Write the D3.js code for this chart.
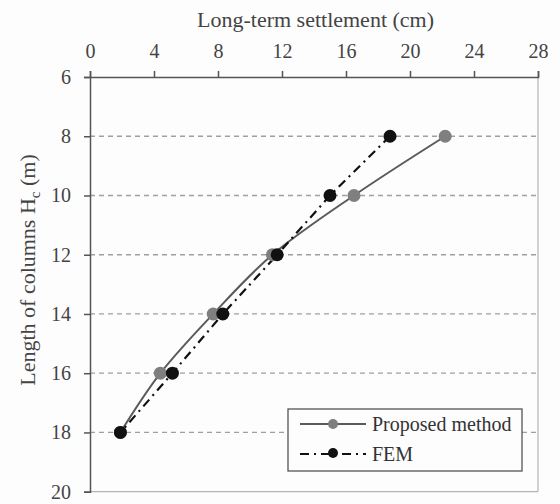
<!DOCTYPE html>
<html><head><meta charset="utf-8">
<script src="https://cdn.jsdelivr.net/npm/d3@7"></script>
<style>body{margin:0;background:#fdfdfd}svg{display:block}
text{font-family:"Liberation Serif","Times New Roman","DejaVu Serif",serif !important}</style>
</head><body>
<svg id="c" width="560" height="504"></svg>
<script>
const depths = [8, 10, 12, 14, 16, 18];
const proposed = [22.2, 16.5, 11.4, 7.7, 4.4, 1.9];
const fem = [18.75, 15.0, 11.7, 8.3, 5.15, 1.9];
const xTicks = [0, 4, 8, 12, 16, 20, 24, 28];
const yTicks = [6, 8, 10, 12, 14, 16, 18, 20];
const gridTicks = [8, 10, 12, 14, 16, 18];

const svg = d3.select("#c");
const L = 90, R = 538, T = 77, B = 491.7;
const x = d3.scaleLinear().domain([0, 28]).range([L, R]);
const y = d3.scaleLinear().domain([6, 20]).range([T, B]);

// frame
svg.append("line").attr("x1", R).attr("x2", R).attr("y1", T).attr("y2", B).attr("stroke", "#b5b5b5").attr("stroke-width", 1.2);
svg.append("line").attr("x1", L).attr("x2", R).attr("y1", B).attr("y2", B).attr("stroke", "#b5b5b5").attr("stroke-width", 1.2);

// grid
svg.append("g").selectAll("line").data(gridTicks).join("line")
  .attr("x1", L).attr("x2", R).attr("y1", d => y(d)).attr("y2", d => y(d))
  .attr("stroke", "#a0a0a0").attr("stroke-width", 1.3).attr("stroke-dasharray", "5,4");

// top axis
const gx = svg.append("g").attr("transform", `translate(0,${T})`)
  .call(d3.axisTop(x).tickValues(xTicks).tickSize(6).tickPadding(13));
gx.select(".domain").attr("stroke", "#555").attr("stroke-width", 1.5);
gx.selectAll(".tick line").attr("stroke", "#555").attr("stroke-width", 1.5);
gx.selectAll("text").attr("font-size", 20).attr("fill", "#444");

// left axis
const gy = svg.append("g").attr("transform", `translate(${L},0)`)
  .call(d3.axisLeft(y).tickValues(yTicks).tickSize(6).tickPadding(13));
gy.select(".domain").attr("stroke", "#555").attr("stroke-width", 1.5);
gy.selectAll(".tick line").attr("stroke", "#555").attr("stroke-width", 1.5);
gy.selectAll("text").attr("font-size", 20).attr("fill", "#444");

// titles
svg.append("text").attr("x", 197).attr("y", 27).attr("text-anchor", "start")
  .attr("font-size", 22).attr("fill", "#444").text("Long-term settlement (cm)");
const yt = svg.append("text").attr("transform", `translate(35,270) rotate(-90)`).attr("text-anchor", "middle")
  .attr("font-size", 22).attr("fill", "#444");
yt.append("tspan").text("Length of columns H");
yt.append("tspan").attr("font-size", 15).attr("dy", 5).text("c");
yt.append("tspan").attr("dy", -5).text(" (m)");

// lines
const pData = depths.map((d, i) => [proposed[i], d]);
const fData = depths.map((d, i) => [fem[i], d]);
const lineSmooth = d3.line().x(d => x(d[0])).y(d => y(d[1])).curve(d3.curveCatmullRom.alpha(0.5));
const lineLin = d3.line().x(d => x(d[0])).y(d => y(d[1]));
svg.append("path").attr("d", lineSmooth(pData)).attr("fill", "none").attr("stroke", "#5a5a5a").attr("stroke-width", 2);
svg.append("path").attr("d", lineLin(fData)).attr("fill", "none").attr("stroke", "#111").attr("stroke-width", 2.2).attr("stroke-dasharray", "9,5,2,5");

svg.append("g").selectAll("circle").data(pData).join("circle")
  .attr("cx", d => x(d[0])).attr("cy", d => y(d[1])).attr("r", 6.5).attr("fill", "#7f7f7f");
svg.append("g").selectAll("circle").data(fData).join("circle")
  .attr("cx", d => x(d[0])).attr("cy", d => y(d[1])).attr("r", 6.5).attr("fill", "#111");

// legend
const lg = svg.append("g");
lg.append("rect").attr("x", 288).attr("y", 409).attr("width", 234).attr("height", 62)
  .attr("fill", "#fdfdfd").attr("stroke", "#555").attr("stroke-width", 1.3);
lg.append("line").attr("x1", 300).attr("x2", 366).attr("y1", 424).attr("y2", 424).attr("stroke", "#5a5a5a").attr("stroke-width", 2);
lg.append("circle").attr("cx", 333).attr("cy", 424).attr("r", 5).attr("fill", "#7f7f7f");
lg.append("line").attr("x1", 300).attr("x2", 366).attr("y1", 454).attr("y2", 454).attr("stroke", "#111").attr("stroke-width", 2.2).attr("stroke-dasharray", "9,5,2,5");
lg.append("circle").attr("cx", 333).attr("cy", 453).attr("r", 5).attr("fill", "#111");
lg.append("text").attr("x", 372).attr("y", 431).attr("font-size", 20).attr("fill", "#333").text("Proposed method");
lg.append("text").attr("x", 372).attr("y", 461).attr("font-size", 20).attr("fill", "#333").text("FEM");
</script>
</body></html>
